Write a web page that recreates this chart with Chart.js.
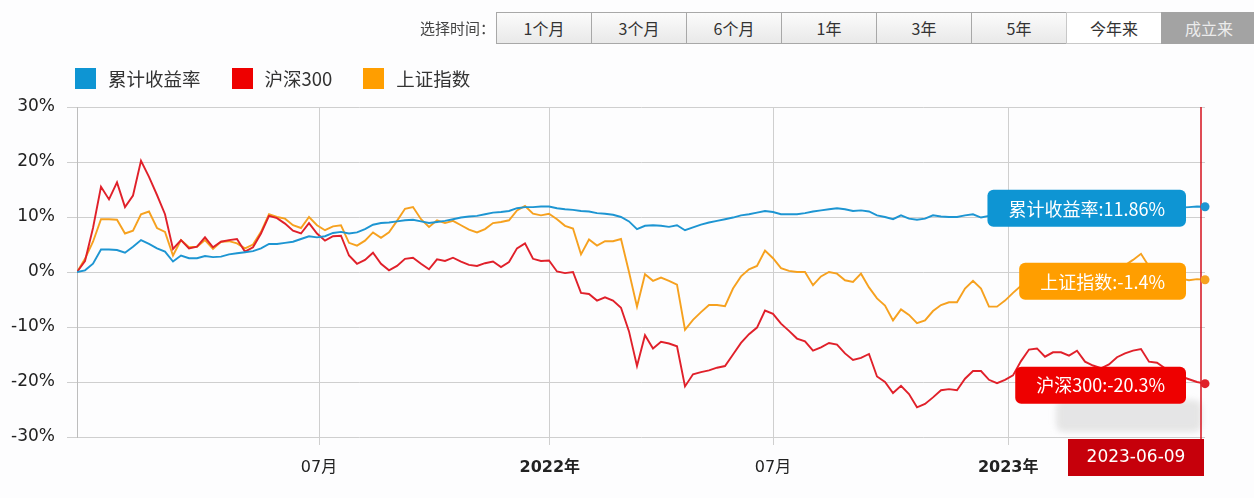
<!DOCTYPE html>
<html>
<head>
<meta charset="utf-8">
<script src="https://cdn.jsdelivr.net/npm/chart.js@4/dist/chart.umd.min.js"></script>
<style>
  html, body { margin: 0; padding: 0; background: #fdfdfe; }
  #wrap { position: relative; width: 1254px; height: 498px; overflow: hidden; font-family: "Noto Sans CJK SC", "DejaVu Sans", sans-serif; }
  #chart { position: absolute; left: 0; top: 0; }
  .pick { position: absolute; left: 420px; top: 17px; font-size: 15px; color: #444; }
  .btns { position: absolute; left: 496px; top: 12px; display: flex; }
  .btns div { width: 94px; height: 30px; line-height: 30px; text-align: center; font-size: 16px; color: #333;
    border: 1px solid #a8a8a8; border-right: none; background: linear-gradient(#fbfbfb, #e9e9e9); }
  .btns div.soft { background: #fff; border-color: #c8c8c8; }
  .btns div.on { background: #a3a3a3; color: #ececec; border-color: #a3a3a3; }
  .legend { position: absolute; left: 75px; top: 65px; display: flex; align-items: center; font-size: 18.5px; color: #333; }
  .legend span.box { display: inline-block; width: 21px; height: 21px; margin-right: 12px; }
  .legend span.txt { margin-right: 31px; }
</style>
</head>
<body>
<div id="wrap">
  <canvas id="chart" width="1254" height="498"></canvas>
  <div class="pick">选择时间：</div>
  <div class="btns" id="btns"></div>
  <div class="legend" id="legend"></div>
</div>
<script>
// --- 数据 ---
const seriesNames = ['累计收益率', '沪深300', '上证指数'];
const seriesColors = ['#1d95d2', '#e0202a', '#f6a11f'];
const legendColors = ['#0e95d3', '#ee0000', '#ff9e00'];
const rangeButtons = ['1个月', '3个月', '6个月', '1年', '3年', '5年', '今年来', '成立来'];

const tickPositions = [30.25, 59.1, 87, 116.4];
const tickLabels = ['07月', '2022年', '07月', '2023年'];
const lastDate = '2023-06-09';

// 累计收益率 (%)
const fundReturn = [
  0, 0.3, 1.5, 4.1, 4.1, 4.0, 3.5, 4.6, 5.8, 5.1,
  4.3, 3.7, 1.9, 3.0, 2.5, 2.5, 2.9, 2.7, 2.8, 3.2,
  3.4, 3.6, 3.8, 4.3, 5.1, 5.1, 5.3, 5.5, 6.0, 6.5,
  6.3, 6.5, 7.1, 7.3, 7.0, 7.2, 7.8, 8.6, 8.9, 9.0,
  9.2, 9.4, 9.5, 9.2, 8.9, 9.1, 9.3, 9.6, 9.9, 10.1,
  10.2, 10.5, 10.8, 10.9, 11.1, 11.6, 11.8, 11.8, 11.9, 11.9,
  11.6, 11.4, 11.3, 11.1, 11.0, 10.7, 10.6, 10.4, 10.0, 9.2,
  7.8, 8.4, 8.5, 8.4, 8.2, 8.5, 7.6, 8.1, 8.6, 9.0,
  9.3, 9.6, 9.9, 10.3, 10.5, 10.8, 11.1, 10.9, 10.5, 10.5,
  10.5, 10.7, 11.0, 11.2, 11.4, 11.6, 11.4, 11.1, 11.2, 11.0,
  10.3, 10.0, 9.6, 10.3, 9.7, 9.5, 9.7, 10.3, 10.1, 10.0,
  10.0, 10.3, 10.5, 9.9, 10.2, 10.5, 10.6, 10.8, 11.0, 11.2,
  11.0, 11.3, 11.5, 11.4, 11.6, 11.7, 11.5, 11.6, 11.8, 11.7,
  11.9, 12.0, 11.8, 11.9, 11.7, 11.8, 11.9, 11.8, 11.7, 11.8,
  11.9, 11.86
];

// 沪深300 (%)
const hs300 = [
  0, 2.0, 8.0, 15.5, 13.2, 16.3, 11.8, 13.9, 20.2, 17.3,
  14.0, 10.5, 4.2, 5.8, 4.3, 4.6, 6.3, 4.5, 5.5, 5.8,
  6.0, 3.7, 4.5, 7.0, 10.2, 9.8, 8.8, 7.5, 7.0, 8.9,
  7.0, 5.7, 6.5, 6.6, 3.0, 1.5, 2.2, 3.5, 1.5, 0.3,
  1.1, 2.4, 2.6, 1.5, 0.5, 2.3, 2.0, 2.6, 1.9, 1.3,
  1.1, 1.6, 1.9, 0.9, 1.8, 4.3, 5.2, 2.4, 2.0, 2.1,
  0.1, -0.2, 0, -3.8, -4.0, -5.2, -4.6, -5.2, -6.5, -10.8,
  -17.1, -11.5, -13.9, -12.7, -13.0, -13.5, -20.8, -18.6, -18.2, -17.9,
  -17.4, -17.1, -15.0, -12.9, -11.3, -10.1, -7.0, -7.6, -9.4, -10.7,
  -12.1, -12.6, -14.3, -13.7, -12.9, -13.2, -14.8, -16.0, -15.6, -14.9,
  -19.0, -20.0, -22.0, -20.7, -22.2, -24.6, -24.0, -22.8, -21.5, -21.3,
  -21.5, -19.4, -18.0, -18.0, -19.6, -20.2, -19.6, -18.8, -16.2, -14.1,
  -13.9, -15.4, -14.6, -14.6, -15.2, -14.3, -16.3, -17.0, -17.5, -16.8,
  -15.5, -14.8, -14.3, -14.0, -16.3, -16.5, -17.5, -18.5, -19.0, -19.5,
  -20.0, -20.3
];

// 上证指数 (%)
const shIndex = [
  0, 2.4, 5.5, 9.6, 9.6, 9.5, 7.0, 7.5, 10.5, 11.0,
  8.0, 7.3, 3.0, 5.8, 4.5, 4.6, 5.8, 4.2, 5.5, 5.6,
  5.2, 4.3, 5.0, 7.3, 10.5, 10.0, 9.7, 8.5, 8.0, 10.0,
  8.5, 7.6, 8.3, 8.5, 5.3, 4.8, 5.7, 7.2, 6.2, 7.2,
  9.3, 11.5, 11.8, 9.6, 8.2, 9.4, 8.9, 9.3, 8.5, 7.7,
  7.2, 7.8, 8.9, 9.1, 9.4, 11.2, 12.0, 10.6, 10.3, 10.6,
  9.6, 8.4, 7.9, 3.2, 5.9, 4.8, 5.6, 5.6, 6.0, 0.0,
  -6.3, -0.4, -1.6, -1.0, -1.6, -2.3, -10.5, -8.7, -7.3, -6.0,
  -6.0, -6.2, -3.0, -0.8, 0.5, 1.1, 3.9, 2.5, 0.7, 0.2,
  0, 0, -2.4, -0.8, 0, -0.3, -1.5, -1.8, -0.3, -2.8,
  -4.8, -6.1, -8.8, -6.8, -7.8, -9.3, -8.8, -7.1, -6.0, -5.5,
  -5.5, -3.0, -1.6, -3.0, -6.3, -6.3, -5.2, -3.8, -2.5, -1.5,
  -0.5, -1.0, 0.2, -0.5, 0.5, 0, -1.0, -0.8, 0.3, 1.0,
  0.5, 1.2, 2.2, 3.3, 1.0, 0.2, -0.5, -0.8, -1.2, -1.5,
  -1.3, -1.4
];

const allSeries = [fundReturn, hs300, shIndex];

// --- 顶部按钮 & 图例 ---
const btns = document.getElementById('btns');
rangeButtons.forEach((t, i) => {
  const d = document.createElement('div');
  d.textContent = t;
  if (t === '今年来') d.className = 'soft';
  if (i === rangeButtons.length - 1) d.className = 'on';
  btns.appendChild(d);
});
const legend = document.getElementById('legend');
seriesNames.forEach((n, i) => {
  legend.insertAdjacentHTML('beforeend',
    `<span class="box" style="background:${legendColors[i]}"></span><span class="txt">${n}</span>`);
});

// --- 右侧提示框 ---
const overlay = {
  id: 'overlay',
  afterDatasetsDraw(chart) {
    const { ctx, chartArea, scales: { x, y } } = chart;
    const last = fundReturn.length - 1;
    const px = x.getPixelForValue(last);
    ctx.save();

    // 水印的模糊块
    ctx.filter = 'blur(3px)';
    ctx.fillStyle = 'rgba(205,205,205,0.5)';
    ctx.beginPath();
    ctx.roundRect(1056, 400, 146, 32, 8);
    ctx.fill();
    ctx.filter = 'none';

    // 十字线
    ctx.strokeStyle = '#d4101c';
    ctx.lineWidth = 1.5;
    ctx.beginPath();
    ctx.moveTo(px - 4, chartArea.top);
    ctx.lineTo(px - 4, 476);
    ctx.stroke();

    // 端点 + 提示框
    ctx.font = '18px "Noto Sans CJK SC", "DejaVu Sans", sans-serif';
    ctx.textBaseline = 'middle';
    allSeries.forEach((arr, i) => {
      const v = arr[last];
      const py = y.getPixelForValue(v);
      ctx.fillStyle = seriesColors[i];
      ctx.beginPath();
      ctx.arc(px, py, 4.5, 0, Math.PI * 2);
      ctx.fill();

      const text = seriesNames[i] + ':' + v + '%';
      const w = ctx.measureText(text).width + 42;
      const right = px - 19;
      ctx.fillStyle = legendColors[i];
      ctx.beginPath();
      ctx.roundRect(right - w, py - 17, w, 37, 6);
      ctx.fill();
      ctx.fillStyle = '#fff';
      ctx.textAlign = 'center';
      ctx.fillText(text, right - w / 2, py + 2);
    });

    // 日期框
    ctx.fillStyle = '#c6000b';
    ctx.fillRect(1068, 439, 136, 37);
    ctx.fillStyle = '#fff';
    ctx.font = '17px "DejaVu Sans", sans-serif';
    ctx.textAlign = 'center';
    ctx.fillText(lastDate, 1136, 458);
    ctx.restore();
  }
};

// --- 图表 ---
new Chart(document.getElementById('chart'), {
  type: 'line',
  data: {
    datasets: allSeries.map((arr, i) => ({
      label: seriesNames[i],
      data: arr.map((v, k) => ({ x: k, y: v })),
      borderColor: seriesColors[i],
      borderWidth: 1.9,
      pointRadius: 0,
      tension: 0,
      fill: false
    }))
  },
  options: {
    responsive: false,
    animation: false,
    layout: { padding: { left: 0, right: 49, top: 107, bottom: 0 } },
    plugins: { legend: { display: false }, tooltip: { enabled: false } },
    scales: {
      x: {
        type: 'linear',
        min: 0,
        max: fundReturn.length - 1,
        afterFit(s) { s.height = 61; },
        afterBuildTicks(s) { s.ticks = tickPositions.map(v => ({ value: v })); },
        grid: { color: '#cfcfcf', tickLength: 8 },
        border: { display: false },
        ticks: {
          padding: 13,
          maxRotation: 0,
          autoSkip: false,
          color: '#222',
          font: c => ({ family: '"DejaVu Sans", "Noto Sans CJK SC", sans-serif', size: 16,
            weight: (c.tick && tickLabels[tickPositions.indexOf(c.tick.value)] || '').includes('年') ? 'bold' : 'normal' }),
          callback: v => tickLabels[tickPositions.indexOf(v)] || ''
        }
      },
      y: {
        min: -30,
        max: 30,
        afterFit(s) { s.width = 77; },
        grid: { color: '#cfcfcf', tickLength: 10 },
        border: { display: true, color: '#bdbdbd' },
        ticks: {
          stepSize: 10,
          padding: 12,
          color: '#222',
          font: { family: '"DejaVu Sans", sans-serif', size: 17 },
          callback: v => v + '%'
        }
      }
    }
  },
  plugins: [overlay]
});
</script>
</body>
</html>
